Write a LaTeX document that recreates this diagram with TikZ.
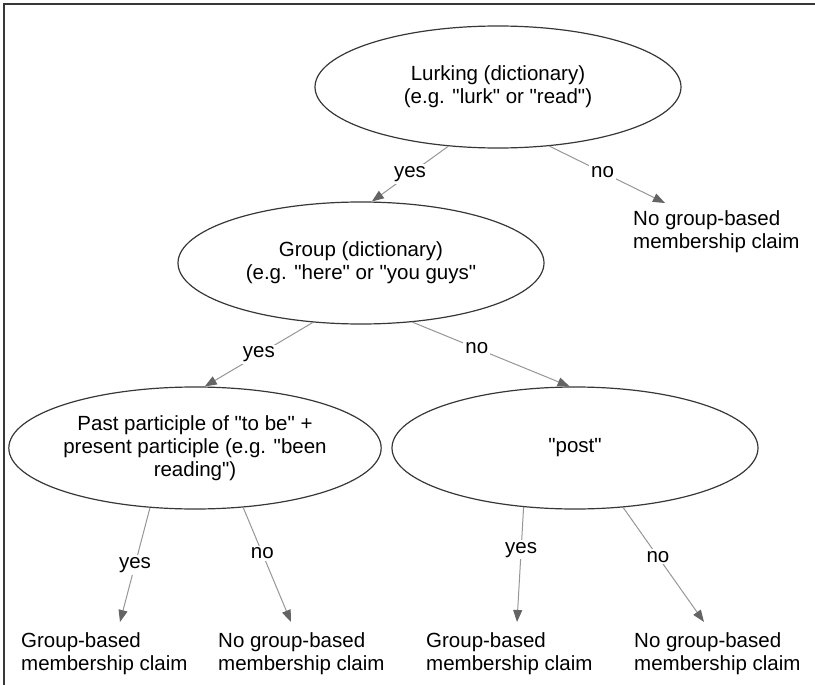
\documentclass[tikz,border=0pt]{standalone}
\usepackage{fontspec}
\newfontfamily\diafont{Liberation Sans}
\usetikzlibrary{arrows.meta,shapes.geometric}
\definecolor{linegray}{RGB}{150,150,150}
\definecolor{tipgray}{RGB}{100,100,100}
\definecolor{edgegray}{RGB}{55,55,55}
\begin{document}
\begin{tikzpicture}[x=1pt,y=-1pt,
  every node/.style={font=\diafont\fontsize{20.5}{23}\selectfont},
  decision/.style={ellipse, draw=edgegray, line width=1.2pt, minimum width=366pt, minimum height=122pt, inner sep=0pt, align=center},
  leaf/.style={anchor=north west, align=left, inner sep=0pt},
  conn/.style={draw=linegray, line width=1pt, -{Triangle[length=12pt,width=9pt,color=tipgray]}},
  lbl/.style={fill=white, inner sep=2pt}
]
\useasboundingbox (0,0) rectangle (815,685);
\draw[edgegray, line width=1.8pt] (4,685) -- (4,4) -- (815,4);

\node[decision] (lurk) at (498,87) {Lurking (dictionary)\\(e.g. "lurk" or "read")};
\node[decision] (group) at (361,263) {Group (dictionary)\\(e.g. "here" or "you guys"};
\node[decision] (past) at (195,448) {Past participle of "to be" +\\present participle (e.g. "been\\reading")};
\node[decision] (post) at (575,448) {"post"};

\node[leaf] (noA) at (633,210) {No group-based\\membership claim};
\node[leaf] (yesB) at (21,632) {Group-based\\membership claim};
\node[leaf] (noB) at (218,632) {No group-based\\membership claim};
\node[leaf] (yesC) at (426,632) {Group-based\\membership claim};
\node[leaf] (noC) at (634,632) {No group-based\\membership claim};

\draw[conn] (lurk.230) -- node[lbl]{yes} (group.80);
\draw[conn] (lurk.311) -- node[lbl,pos=0.46]{no} ([xshift=32pt,yshift=7pt]noA.north west);
\draw[conn] (group.231) -- node[lbl]{yes} (past.81);
\draw[conn] (group.311) -- node[lbl,pos=0.41]{no} (post.95);
\draw[conn] (past.233) -- node[lbl]{yes} ([xshift=99pt,yshift=10pt]yesB.north west);
\draw[conn] (past.309) -- node[lbl,pos=0.4]{no} ([xshift=73pt,yshift=10pt]noB.north west);
\draw[conn] (post.229) -- node[lbl,pos=0.37]{yes} ([xshift=91pt,yshift=10pt]yesC.north west);
\draw[conn] (post.309) -- node[lbl,pos=0.43]{no} ([xshift=70pt,yshift=10pt]noC.north west);
\end{tikzpicture}
\end{document}
